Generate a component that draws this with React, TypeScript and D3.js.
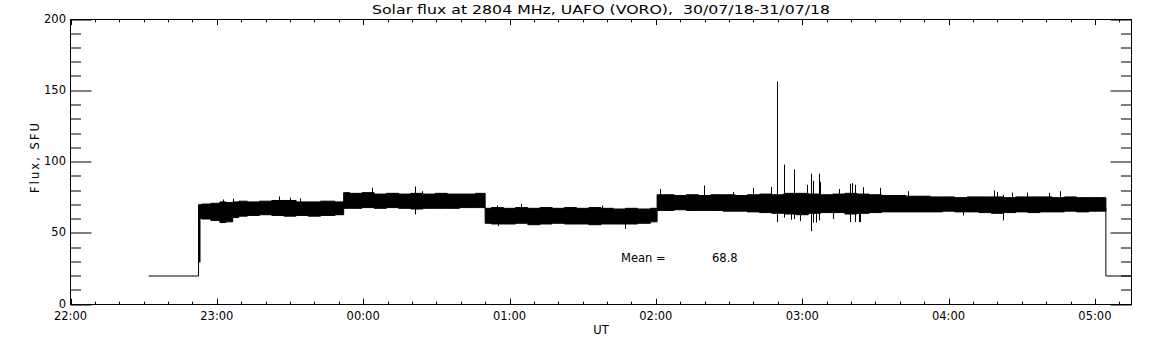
import * as d3 from 'd3'

const W = 1152
const H = 345

const TITLE = 'Solar flux at 2804 MHz, UAFO (VORO),  30/07/18-31/07/18'
const X_LABEL = 'UT'
const Y_LABEL = 'Flux, SFU'
const X_TICK_LABELS = ['22:00', '23:00', '00:00', '01:00', '02:00', '03:00', '04:00', '05:00']
const Y_TICKS = [0, 50, 100, 150, 200]
const MEAN_VALUE = 68.8

// time is minutes after 22:00 UT, flux in SFU
// envelope of the dense record (upper / lower edge of the black band)
const envTime = [
  52.5, 55, 60, 62.5, 65, 68, 70, 75, 80, 85, 90, 95, 100, 105, 112,
  112, 117, 122, 127, 132, 137, 142, 147, 152, 157, 162, 170,
  170, 175, 180, 185, 190, 195, 200, 205, 210, 215, 220, 225, 230, 235, 240.5,
  240.5, 245, 250, 255, 260, 265, 270, 275, 280, 285, 290, 295, 300, 305, 310, 315, 320, 325, 330,
  335, 340, 345, 350, 355, 360, 365, 370, 375, 380, 385, 390, 395, 400, 405, 410, 415, 420, 424.5
]
const envHigh = [
  70, 70.5, 71, 72, 71.5, 72, 72.5, 72, 72.5, 73, 73, 72, 72, 72.5, 72,
  78.5, 78, 78.5, 77.5, 78, 77.5, 78, 77.5, 78, 77.5, 77.5, 78,
  67.5, 68, 67.5, 68, 67.5, 68, 67.5, 68, 67.5, 68, 67.5, 67, 67.5, 67, 67.5,
  77, 77, 76.5, 77, 76.5, 77, 77, 76.5, 77, 77.5, 77, 78, 78, 77.5, 77, 77.5, 78, 77.5, 77,
  76.5, 76.5, 76, 76, 75.5, 75.5, 75, 75.5, 75.5, 75.5, 75, 75.5, 75.5, 75.5, 75, 75.5, 75, 75, 75
]
const envLow = [
  60.5, 60, 59, 57.5, 58, 61, 62, 62.5, 63, 62.5, 62, 62.5, 62, 62.5, 63,
  67.5, 67.5, 68, 67.5, 68, 67.5, 67, 67.5, 67.5, 67.5, 68, 68,
  57, 56.5, 56.5, 57, 56, 56.5, 57, 56.5, 56.5, 56, 56.5, 56.5, 56.5, 57, 58,
  66, 66, 66.5, 66, 66, 66, 65.5, 65.5, 65, 64.5, 64, 63.5, 63, 64, 64.5, 64.5, 63.5, 64, 64.5,
  65, 65, 65, 65, 65, 65.5, 65, 65, 64.5, 64, 64.5, 65, 64.5, 65, 65, 65.5, 65, 65.5, 65.5
]

// single excursions that stick out of the band
const spikeTime = [
  52.8, 62.5, 66.5, 85.5, 90, 94.1, 123.7, 141.3, 144, 174.8, 175.3, 184.8, 217.8, 227.4,
  241.8, 259.8, 271.7, 280, 287.2, 289.5, 292.5, 295.2, 296.8, 299, 302, 303.4, 304.4, 305.6,
  306.7, 307.4, 312.8, 314.9, 319.4, 320.4, 321.7, 323.1, 323.8, 325.1, 331.7, 343.3,
  366.1, 378.5, 379.8, 382.3, 386, 392.1, 401, 405.8
]
const spikeHigh = [
  70, 73.7, 74.4, 75.8, 75, 74.5, 82, 82.8, 79.5, 69.5, 65, 70.5, 69.5, 60,
  81, 83.5, 79, 81.9, 82.5, 156.5, 98.2, 75, 94.7, 75, 84, 91.7, 86.8, 75,
  91.7, 86, 75, 81, 84.7, 85.2, 84, 75, 75, 82.3, 81.9, 79.5,
  72, 80, 79, 77, 78.5, 78.5, 78.3, 79.5
]
const spikeLow = [
  29.5, 60, 62, 68, 68, 68, 70, 63.2, 72, 62, 55, 62, 60, 53.1,
  70, 70, 70, 70, 70, 57.8, 61, 59.5, 60, 58.5, 70, 51.5, 57.5, 57.5,
  59, 70, 60, 70, 58, 70, 57.8, 57.8, 57.8, 70, 70, 70,
  62.5, 70, 70, 59, 70, 70, 70, 70
]

// quiet-sky calibration level before and after the record
const leftTime = [32, 52.5, 52.5]
const leftFlux = [20, 20, 68]
const rightTime = [424.5, 424.5, 435]
const rightFlux = [68, 20, 20]

const FONT = 'DejaVu Sans, sans-serif'

export default function App() {
  const x = d3.scaleLinear().domain([0, 435]).range([70.5, 1131.5])
  const y = d3.scaleLinear().domain([0, 200]).range([304.5, 19.5])

  const band = envTime.map((t, i) => ({ t, hi: envHigh[i], lo: envLow[i] }))
  const area = d3.area<{ t: number; hi: number; lo: number }>()
    .curve(d3.curveStep)
    .x(d => x(d.t))
    .y0(d => y(d.lo))
    .y1(d => y(d.hi))

  const line = d3.line<[number, number]>()
    .x(d => x(d[0]))
    .y(d => y(d[1]))

  const leftPts = leftTime.map((t, i) => [t, leftFlux[i]] as [number, number])
  const rightPts = rightTime.map((t, i) => [t, rightFlux[i]] as [number, number])

  const [xl, xr] = x.range()
  const [yb, yt] = y.range()
  const xMajor = d3.range(0, 421, 60)
  const xMinor = d3.range(0, 436, 10).filter(v => v % 60 !== 0)
  const yMinor = d3.range(0, 201, 10).filter(v => v % 50 !== 0)
  const xTickLen = 5.7
  const yTickLen = 21

  const rx = (v: number) => Math.round(x(v)) + 0.5
  const ry = (v: number) => Math.round(y(v)) - 0.5

  return (
    <svg width={W} height={H} style={{ position: 'absolute', left: 0, top: 0, background: '#fff' }}>
      <rect width={W} height={H} fill="#fff" />

      {/* data */}
      <path d={area(band) ?? ''} fill="#000" stroke="#000" strokeWidth={1} />
      {spikeTime.map((t, i) => (
        <line key={i} x1={rx(t)} x2={rx(t)} y1={y(spikeLow[i])} y2={y(spikeHigh[i])}
          stroke="#000" strokeWidth={i === 0 ? 2 : 1} />
      ))}
      <path d={line(leftPts) ?? ''} fill="none" stroke="#000" strokeWidth={1} />
      <path d={line(rightPts) ?? ''} fill="none" stroke="#000" strokeWidth={1} />

      {/* frame */}
      <rect x={xl} y={yt} width={xr - xl} height={yb - yt} fill="none" stroke="#000" strokeWidth={1} />

      {/* x ticks, bottom and top */}
      {xMajor.map(v => (
        <g key={`xM${v}`}>
          <line x1={rx(v)} x2={rx(v)} y1={yb} y2={yb - xTickLen} stroke="#000" />
          <line x1={rx(v)} x2={rx(v)} y1={yt} y2={yt + xTickLen} stroke="#000" />
        </g>
      ))}
      {xMinor.map(v => (
        <g key={`xm${v}`}>
          <line x1={rx(v)} x2={rx(v)} y1={yb} y2={yb - xTickLen / 2} stroke="#000" />
          <line x1={rx(v)} x2={rx(v)} y1={yt} y2={yt + xTickLen / 2} stroke="#000" />
        </g>
      ))}
      {X_TICK_LABELS.map((s, i) => (
        <text key={s} x={x(xMajor[i])} y={320} fontFamily={FONT} fontSize={11.5} textAnchor="middle">{s}</text>
      ))}

      {/* y ticks, left and right */}
      {Y_TICKS.map(v => (
        <g key={`yM${v}`}>
          <line x1={xl} x2={xl + yTickLen} y1={ry(v) + 0.5} y2={ry(v) + 0.5} stroke="#000" />
          <line x1={xr} x2={xr - yTickLen} y1={ry(v) + 0.5} y2={ry(v) + 0.5} stroke="#000" />
          <text x={66} y={y(v) + 3} fontFamily={FONT} fontSize={11.5} textAnchor="end">{v}</text>
        </g>
      ))}
      {yMinor.map(v => (
        <g key={`ym${v}`}>
          <line x1={xl} x2={xl + yTickLen / 2} y1={ry(v) + 0.5} y2={ry(v) + 0.5} stroke="#000" />
          <line x1={xr} x2={xr - yTickLen / 2} y1={ry(v) + 0.5} y2={ry(v) + 0.5} stroke="#000" />
        </g>
      ))}

      {/* labels */}
      <text x={(xl + xr) / 2} y={14} fontFamily={FONT} fontSize={12} textAnchor="middle"
        textLength={458} lengthAdjust="spacingAndGlyphs" style={{ whiteSpace: 'pre' }}>{TITLE}</text>
      <text x={(xl + xr) / 2} y={334} fontFamily={FONT} fontSize={11.5} textAnchor="middle">{X_LABEL}</text>
      <text transform={`translate(39, ${(yb + yt) / 2 - 4}) rotate(-90)`} fontFamily={FONT} fontSize={11.5}
        textAnchor="middle" textLength={70} lengthAdjust="spacing">{Y_LABEL}</text>
      <text x={621} y={262} fontFamily={FONT} fontSize={11.5}>Mean =</text>
      <text x={712} y={262} fontFamily={FONT} fontSize={11.5}>{MEAN_VALUE.toFixed(1)}</text>
    </svg>
  )
}
